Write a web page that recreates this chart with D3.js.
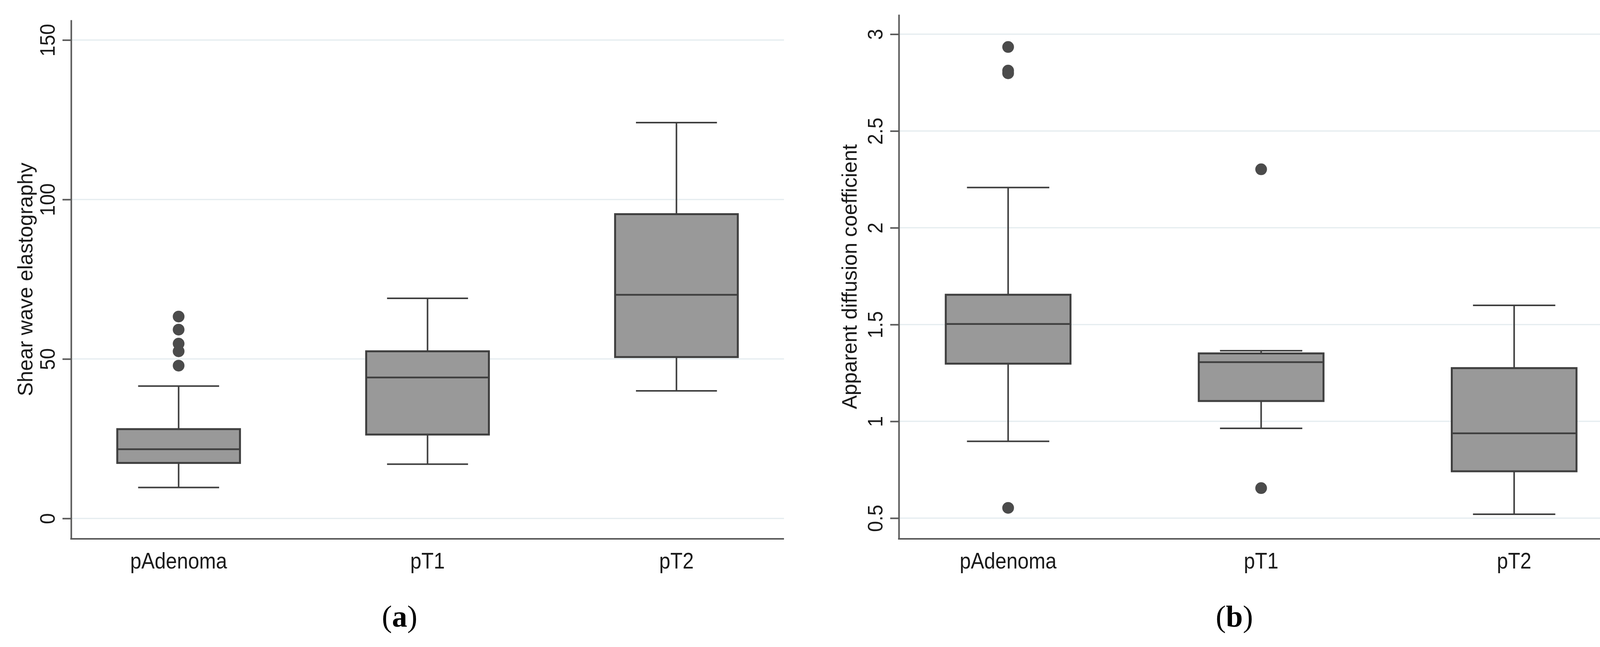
<!DOCTYPE html>
<html>
<head>
<meta charset="utf-8">
<script src="https://cdn.jsdelivr.net/npm/d3@7"></script>
<style>
  html, body { margin: 0; padding: 0; background: #fff; }
  svg { display: block; }
</style>
</head>
<body>
<div id="chart"></div>
<script>
// Box plots: shear wave elastography (a) and ADC (b) by pathology group

const categories = ['pAdenoma', 'pT1', 'pT2'];

// (a) shear wave elastography
const swLowWhisker = [9.7, 17.0, 40.0];
const swQ1 = [17.4, 26.3, 50.6];
const swMedian = [21.7, 44.2, 70.1];
const swQ3 = [28.0, 52.4, 95.4];
const swHighWhisker = [41.5, 69.0, 124.1];
const swOutliers = [[63.3, 59.2, 54.8, 52.4, 47.9], [], []];
const swTicks = [0, 50, 100, 150];
const swDomain = [-6.4, 156.3];

// (b) apparent diffusion coefficient
const adcLowWhisker = [0.897, 0.964, 0.52];
const adcQ1 = [1.298, 1.105, 0.742];
const adcMedian = [1.503, 1.306, 0.938];
const adcQ3 = [1.654, 1.351, 1.275];
const adcHighWhisker = [2.208, 1.365, 1.599];
const adcOutliers = [[2.934, 2.812, 2.798, 0.553], [2.302, 0.655], []];
const adcTicks = [0.5, 1, 1.5, 2, 2.5, 3];
const adcDomain = [0.393, 3.102];

const W = 4209, H = 1657;
const svg = d3.select('#chart').append('svg')
  .attr('width', W)
  .attr('height', H)
  .style('font-family', '"Liberation Sans", Arial, sans-serif');

const lineColor = '#3f3f3f';
const axisColor = '#5a5a5a';

function drawPanel(opts) {
  const {left, right, top, bottom, domain, ticks, title, titleOffset,
         lo, q1, med, q3, hi, outliers, letter, letterX} = opts;

  const x = d3.scalePoint()
    .domain(categories)
    .range([left, right])
    .padding(0.432);

  const y = d3.scaleLinear()
    .domain(domain)
    .range([bottom, top]);

  const boxW = x.step() * 0.493;
  const capW = boxW * 0.66;

  // grid lines
  svg.append('g')
    .selectAll('line')
    .data(ticks)
    .enter().append('line')
    .attr('x1', left)
    .attr('x2', right)
    .attr('y1', d => y(d))
    .attr('y2', d => y(d))
    .attr('stroke', '#e4ecef')
    .attr('stroke-width', 3);

  // y axis
  const yAxis = svg.append('g')
    .attr('transform', `translate(${left},0)`)
    .call(d3.axisLeft(y).tickValues(ticks).tickSize(22).tickSizeOuter(0)
      .tickFormat(d3.format('~g')));
  yAxis.select('.domain').attr('stroke', axisColor).attr('stroke-width', 4);
  yAxis.selectAll('.tick line').attr('stroke', axisColor).attr('stroke-width', 4);
  yAxis.selectAll('.tick text')
    .attr('x', 0)
    .attr('y', -42)
    .attr('dy', 0)
    .attr('text-anchor', 'middle')
    .attr('transform', 'rotate(-90) scale(0.93,1)')
    .attr('fill', '#1a1a1a')
    .attr('font-family', '"Liberation Sans", Arial, sans-serif')
    .attr('font-size', '54px');

  // x axis line
  svg.append('line')
    .attr('x1', left - 2)
    .attr('x2', right)
    .attr('y1', bottom)
    .attr('y2', bottom)
    .attr('stroke', axisColor)
    .attr('stroke-width', 4);

  // category labels
  svg.append('g')
    .selectAll('text')
    .data(categories)
    .enter().append('text')
    .attr('transform', d => `translate(${x(d)},1456) scale(0.9,1)`)
    .attr('text-anchor', 'middle')
    .attr('fill', '#1a1a1a')
    .attr('font-size', '57px')
    .text(d => d);

  // y title
  svg.append('text')
    .attr('transform', `translate(${left - titleOffset},${(top + bottom) / 2}) rotate(-90)`)
    .attr('text-anchor', 'middle')
    .attr('fill', '#1a1a1a')
    .attr('font-size', '53px')
    .text(title);

  // boxes
  const g = svg.append('g');
  categories.forEach((c, i) => {
    const cx = x(c);
    // whiskers
    g.append('line')
      .attr('x1', cx).attr('x2', cx)
      .attr('y1', y(q3[i])).attr('y2', y(hi[i]))
      .attr('stroke', lineColor).attr('stroke-width', 4);
    g.append('line')
      .attr('x1', cx).attr('x2', cx)
      .attr('y1', y(q1[i])).attr('y2', y(lo[i]))
      .attr('stroke', lineColor).attr('stroke-width', 4);
    g.append('line')
      .attr('x1', cx - capW / 2).attr('x2', cx + capW / 2)
      .attr('y1', y(hi[i])).attr('y2', y(hi[i]))
      .attr('stroke', lineColor).attr('stroke-width', 4);
    g.append('line')
      .attr('x1', cx - capW / 2).attr('x2', cx + capW / 2)
      .attr('y1', y(lo[i])).attr('y2', y(lo[i]))
      .attr('stroke', lineColor).attr('stroke-width', 4);
    // box
    g.append('rect')
      .attr('x', cx - boxW / 2)
      .attr('y', y(q3[i]))
      .attr('width', boxW)
      .attr('height', y(q1[i]) - y(q3[i]))
      .attr('fill', '#999999')
      .attr('stroke', lineColor)
      .attr('stroke-width', 5);
    // median
    g.append('line')
      .attr('x1', cx - boxW / 2).attr('x2', cx + boxW / 2)
      .attr('y1', y(med[i])).attr('y2', y(med[i]))
      .attr('stroke', lineColor).attr('stroke-width', 4.5);
    // outliers
    g.selectAll(null)
      .data(outliers[i])
      .enter().append('circle')
      .attr('cx', cx)
      .attr('cy', d => y(d))
      .attr('r', 15)
      .attr('fill', '#4b4b4b');
  });

  // panel letter
  const lab = svg.append('text')
    .attr('x', letterX)
    .attr('y', 1605)
    .attr('text-anchor', 'middle')
    .attr('fill', '#000')
    .attr('font-family', '"Liberation Serif", "Times New Roman", serif')
    .attr('font-size', '78px');
  lab.append('tspan').text('(');
  lab.append('tspan').attr('font-weight', 'bold').text(letter);
  lab.append('tspan').text(')');
}

drawPanel({
  left: 182, right: 2007, top: 51, bottom: 1380,
  domain: swDomain, ticks: swTicks,
  title: 'Shear wave elastography', titleOffset: 99,
  lo: swLowWhisker, q1: swQ1, med: swMedian, q3: swQ3, hi: swHighWhisker,
  outliers: swOutliers, letter: 'a', letterX: 1023
});

drawPanel({
  left: 2301, right: 4156, top: 37, bottom: 1380,
  domain: adcDomain, ticks: adcTicks,
  title: 'Apparent diffusion coefficient', titleOffset: 108,
  lo: adcLowWhisker, q1: adcQ1, med: adcMedian, q3: adcQ3, hi: adcHighWhisker,
  outliers: adcOutliers, letter: 'b', letterX: 3160
});
</script>
</body>
</html>
